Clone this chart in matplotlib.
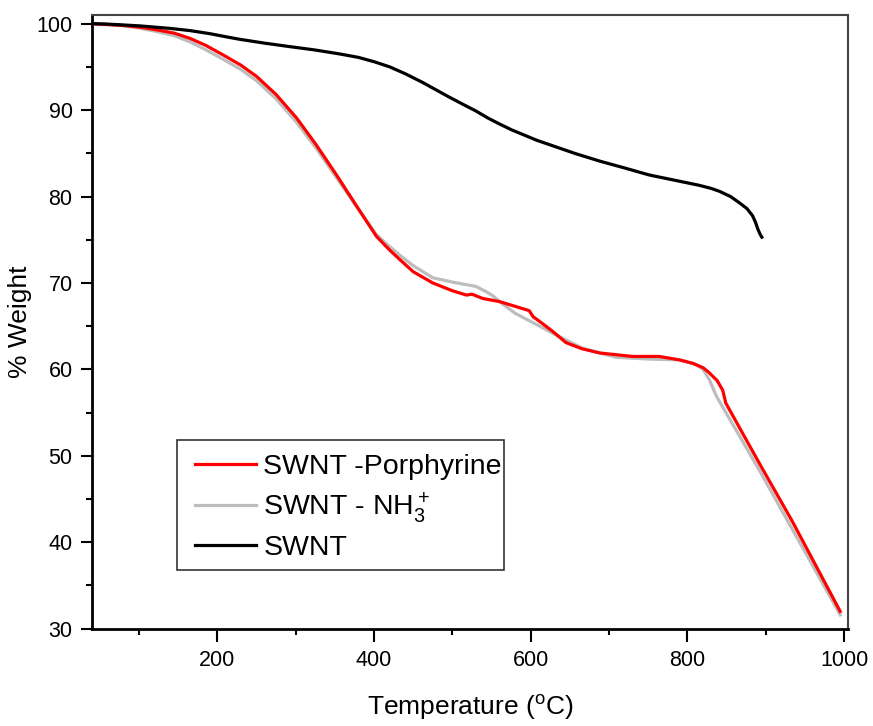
import matplotlib
matplotlib.use("Agg")
import matplotlib.pyplot as plt
from matplotlib.ticker import MultipleLocator
from matplotlib.patches import Rectangle

plt.rcParams['font.family'] = ['Liberation Sans', 'DejaVu Sans']
plt.rcParams['mathtext.default'] = 'regular'

# TGA curves: temperature (°C) vs. remaining weight (%)
temp_porph = [40, 79, 100, 122, 145, 165, 185, 207, 230, 250, 275, 301, 326, 352, 377,
              403, 420, 433, 450, 475, 500, 518, 525, 539, 560, 580, 598, 603, 615,
              628, 645, 665, 688, 730, 764, 790, 807, 820, 828, 838, 845, 849, 892,
              934, 995]
wt_porph = [100.0, 99.8, 99.6, 99.3, 98.9, 98.3, 97.5, 96.4, 95.2, 93.9, 91.8, 89.1,
            86.0, 82.5, 79.0, 75.4, 73.8, 72.7, 71.3, 70.0, 69.1, 68.6, 68.7, 68.2,
            67.85, 67.3, 66.8, 66.1, 65.3, 64.4, 63.1, 62.4, 61.9, 61.5, 61.5, 61.1,
            60.7, 60.2, 59.6, 58.7, 57.6, 56.1, 49.1, 42.4, 32.0]

temp_nh3 = [40, 79, 100, 122, 145, 165, 185, 207, 230, 250, 275, 301, 326, 352, 377,
            403, 420, 433, 450, 475, 500, 518, 530, 543, 552, 560, 580, 603, 632, 666,
            709, 750, 790, 810, 820, 828, 837, 892, 995]
wt_nh3 = [100.0, 99.75, 99.5, 99.1, 98.6, 97.9, 97.0, 95.9, 94.7, 93.4, 91.3, 88.6,
          85.6, 82.2, 78.9, 75.6, 74.2, 73.2, 72.0, 70.6, 70.1, 69.8, 69.6, 69.0, 68.5,
          67.85, 66.5, 65.4, 64.0, 62.45, 61.4, 61.2, 61.1, 60.6, 60.0, 58.8, 56.9,
          48.3, 31.6]

temp_swnt = [40, 60, 80, 100, 120, 140, 165, 190, 210, 228, 260, 292, 325, 356, 380,
             400, 420, 440, 462, 480, 496, 515, 530, 545, 560, 576, 592, 608, 624, 656,
             688, 720, 751, 783, 815, 830, 841, 855, 866, 876, 883, 887, 890, 893, 895]
wt_swnt = [100.0, 99.95, 99.85, 99.75, 99.6, 99.45, 99.2, 98.85, 98.5, 98.2, 97.75,
           97.35, 96.95, 96.5, 96.1, 95.6, 95.0, 94.2, 93.2, 92.3, 91.5, 90.6, 89.9,
           89.1, 88.4, 87.7, 87.1, 86.5, 86.0, 85.0, 84.1, 83.3, 82.5, 81.9, 81.3,
           80.95, 80.6, 80.0, 79.3, 78.6, 77.8, 77.0, 76.2, 75.6, 75.3]

labels = ['SWNT -Porphyrine', 'SWNT - NH$_3^+$', 'SWNT']
colors = ['#ff0000', '#bdbdbd', '#000000']

fig = plt.figure(figsize=(8.73, 7.26), dpi=100)
ax = fig.add_axes([0.1054, 0.134, 0.866, 0.8453])

ax.plot(temp_nh3, wt_nh3, color=colors[1], lw=2.3, label=labels[1], zorder=2)
ax.plot(temp_porph, wt_porph, color=colors[0], lw=2.3, label=labels[0], zorder=3)
ax.plot(temp_swnt, wt_swnt, color=colors[2], lw=2.3, label=labels[2], zorder=4)

ax.set_xlim(40, 1005)
ax.set_ylim(30, 101)
ax.xaxis.set_major_locator(MultipleLocator(200))
ax.xaxis.set_minor_locator(MultipleLocator(100))
ax.yaxis.set_major_locator(MultipleLocator(10))
ax.yaxis.set_minor_locator(MultipleLocator(5))

ax.tick_params(which='major', direction='out', length=8, width=1.5,
               labelsize=15.5, pad=6, top=False, right=False)
ax.tick_params(axis='x', which='major', length=9.5)
ax.tick_params(which='minor', direction='out', length=4.5, width=1.5,
               top=False, right=False)

for side in ['left', 'bottom']:
    ax.spines[side].set_linewidth(2)
for side in ['top', 'right']:
    ax.spines[side].set_linewidth(1.5)
    ax.spines[side].set_color('#444444')

ax.set_xlabel('Temperature ($^{o}$C)', fontsize=19, labelpad=16)
ax.set_ylabel('% Weight', fontsize=19, labelpad=3)

handles, hl = ax.get_legend_handles_labels()
order = [hl.index(l) for l in labels]
leg = ax.legend([handles[i] for i in order], [hl[i] for i in order],
                loc='upper left', bbox_to_anchor=(0.1362, 0.285),
                fontsize=20.5, frameon=False,
                handlelength=2.15, handletextpad=0.25, borderpad=0,
                labelspacing=0.36, borderaxespad=0)

# legend box drawn separately so the long label may run up to its edge
ax.add_patch(Rectangle((0.1124, 0.0957), 0.4326, 0.2118, transform=ax.transAxes,
                       fill=False, edgecolor='#333333', lw=1.2, zorder=5))

fig.savefig('out.png', dpi=100)
